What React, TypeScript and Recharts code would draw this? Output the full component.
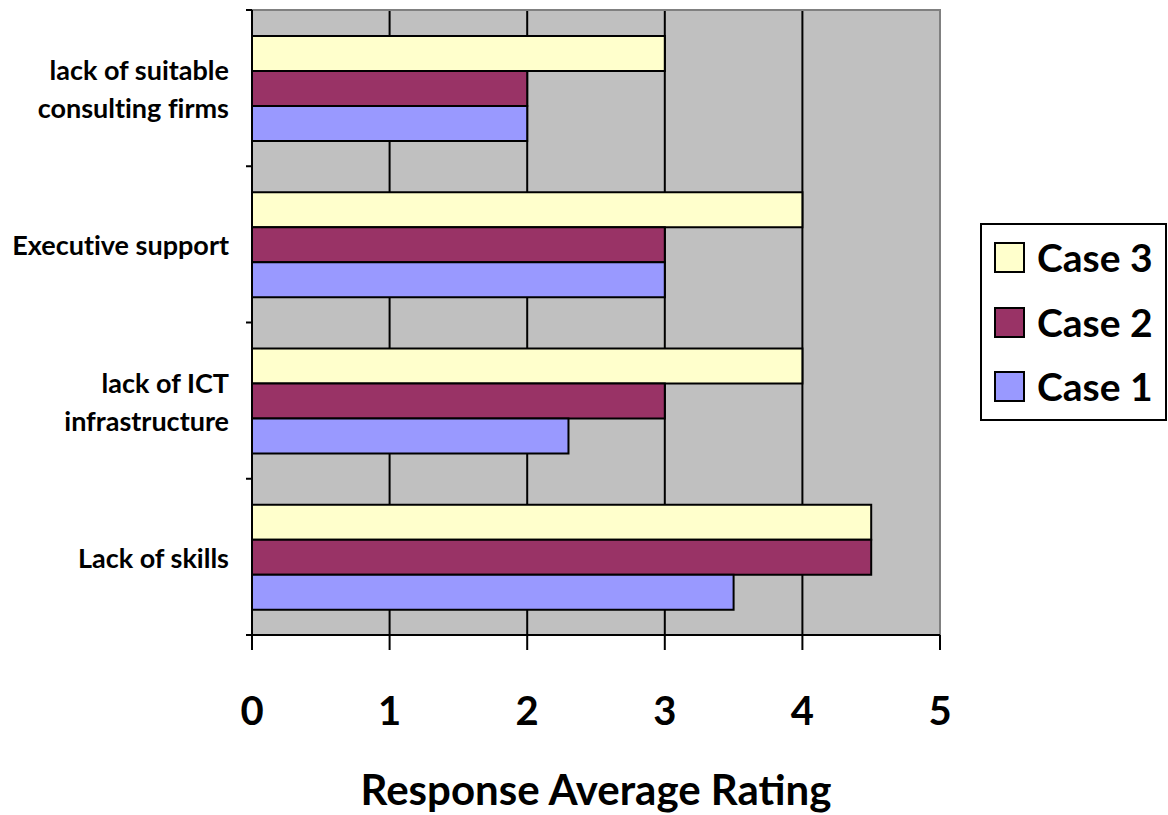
import React from 'react';
import {
  BarChart,
  Bar,
  XAxis,
  YAxis,
  CartesianGrid,
  ReferenceArea,
} from 'recharts';

// Barriers rated by respondents, listed top to bottom
const categories = [
  'lack of suitable\nconsulting firms',
  'Executive support',
  'lack of ICT\ninfrastructure',
  'Lack of skills',
];
const case1 = [2, 3, 2.3, 3.5];
const case2 = [2, 3, 3, 4.5];
const case3 = [3, 4, 4, 4.5];
const ratingTicks = [0, 1, 2, 3, 4, 5];

// Series in the order they are stacked inside each band (and in the legend)
const series = [
  { key: 'case3', name: 'Case 3', color: '#FFFFCC' },
  { key: 'case2', name: 'Case 2', color: '#993366' },
  { key: 'case1', name: 'Case 1', color: '#9999FF' },
];

const data = categories.map((name, i) => ({
  name,
  case1: case1[i],
  case2: case2[i],
  case3: case3[i],
}));

const FONT = 'Lato, "Open Sans", sans-serif';
const NO_LIGA = { fontVariantLigatures: 'none' as const, fontFeatureSettings: '"liga" 0, "clig" 0' };
const Y_TICK_SIZE = 6;
const Y_TICK_MARGIN = 17;

// Category label (wrapped on "\n") plus the small tick marks at band edges
const CategoryTick = (props: any) => {
  const { x, y, payload, index, visibleTicksCount } = props;
  const lines = String(payload.value).split('\n');
  const lineHeight = 38;
  const y0 = y - ((lines.length - 1) * lineHeight) / 2;
  const half = payload && typeof payload.offset === 'number' && payload.offset > 0 ? payload.offset : 78;
  const axisX = x + Y_TICK_SIZE + Y_TICK_MARGIN;
  const last = index === (visibleTicksCount ?? categories.length) - 1;
  return (
    <g>
      <line x1={axisX - Y_TICK_SIZE} x2={axisX} y1={y - half} y2={y - half} stroke="#000" strokeWidth={2} />
      {last && (
        <line x1={axisX - Y_TICK_SIZE} x2={axisX} y1={y + half} y2={y + half} stroke="#000" strokeWidth={2} />
      )}
      <text
        x={x}
        y={y0}
        textAnchor="end"
        dominantBaseline="central"
        fontFamily={FONT}
        fontWeight={700}
        fontSize={27}
        fill="#000"
        style={NO_LIGA}
      >
        {lines.map((l, i) => (
          <tspan key={i} x={x} y={y0 + i * lineHeight}>
            {l}
          </tspan>
        ))}
      </text>
    </g>
  );
};

const LegendBox = () => (
  <div
    style={{
      position: 'absolute',
      left: 980,
      top: 223,
      width: 183,
      height: 194,
      border: '2px solid #000',
      background: '#fff',
      display: 'flex',
      flexDirection: 'column',
      justifyContent: 'center',
    }}
  >
    {series.map((s) => (
      <div key={s.key} style={{ display: 'flex', alignItems: 'center', height: 66 }}>
        <div
          style={{
            width: 27,
            height: 27,
            marginLeft: 12,
            marginRight: 12,
            background: s.color,
            border: '2px solid #000',
          }}
        />
        <span style={{ fontFamily: FONT, fontWeight: 700, fontSize: 39, color: '#000', lineHeight: 1 }}>
          {s.name}
        </span>
      </div>
    ))}
  </div>
);

export default function App() {
  return (
    <div style={{ position: 'absolute', left: 0, top: 0, width: 1168, height: 815, background: '#fff' }}>
      <BarChart
        width={1168}
        height={815}
        data={data}
        layout="vertical"
        margin={{ top: 10, right: 228, bottom: 0, left: 0 }}
        barCategoryGap="16.7%"
        barGap={0}
      >
        <CartesianGrid
          horizontal={false}
          vertical
          stroke="#000"
          strokeWidth={2}
          fill="#C0C0C0"
          fillOpacity={1}
          verticalCoordinatesGenerator={(p: any) => {
            const sc = p?.xAxis?.scale;
            if (typeof sc === 'function') return [1, 2, 3, 4].map((v) => sc(v));
            const left = p.offset.left;
            const w = p.offset.width;
            return [1, 2, 3, 4].map((v) => left + (w * v) / 5);
          }}
        />
        <ReferenceArea x1={0} x2={5} fill="none" stroke="#808080" strokeWidth={2} ifOverflow="visible" />
        <XAxis
          type="number"
          domain={[0, 5]}
          ticks={ratingTicks}
          interval={0}
          height={180}
          tickSize={15}
          tickMargin={47}
          axisLine={{ stroke: '#000', strokeWidth: 2 }}
          tickLine={{ stroke: '#000', strokeWidth: 2 }}
          tick={{ fontFamily: FONT, fontWeight: 700, fontSize: 40, fill: '#000' }}
          label={{
            value: 'Response Average Rating',
            position: 'insideBottom',
            offset: 10,
            style: { fontFamily: FONT, fontWeight: 700, fontSize: 42, fill: '#000' },
          }}
        />
        <YAxis
          type="category"
          dataKey="name"
          width={252}
          interval={0}
          tickLine={false}
          tickSize={Y_TICK_SIZE}
          tickMargin={Y_TICK_MARGIN}
          axisLine={{ stroke: '#000', strokeWidth: 2 }}
          tick={<CategoryTick />}
        />
        {series.map((s) => (
          <Bar
            key={s.key}
            dataKey={s.key}
            name={s.name}
            fill={s.color}
            stroke="#000"
            strokeWidth={2}
            isAnimationActive={false}
          />
        ))}
      </BarChart>
      <LegendBox />
    </div>
  );
}
